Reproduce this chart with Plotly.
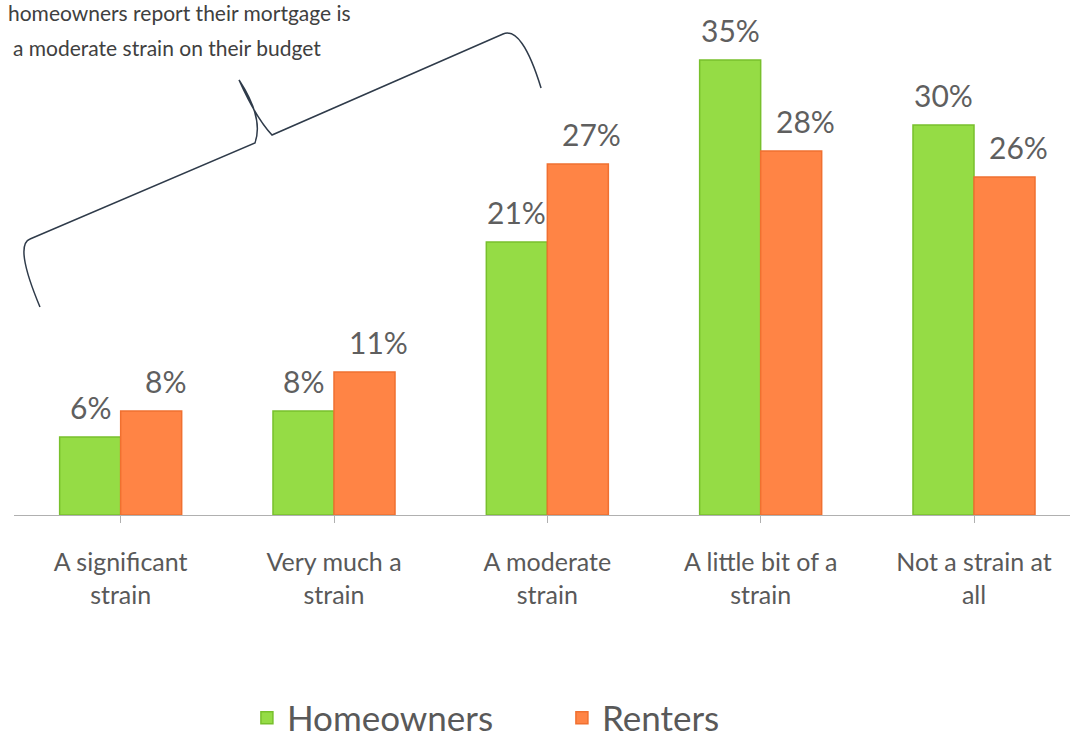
import plotly.graph_objects as go

# --- data ---
categories = ["A significant<br>strain", "Very much a<br>strain", "A moderate<br>strain",
              "A little bit of a<br>strain", "Not a strain at<br>all"]
homeowners = [6, 8, 21, 35, 30]
renters = [8, 11, 27, 28, 26]
note_lines = ["homeowners report their mortgage is", "a moderate strain on their budget"]

W, H = 1070, 740
L, R, T, B = 14, 0, 8, 225
FONT = "Lato, 'Open Sans', sans-serif"
GREY = "#595959"


def px_x(px):
    return (px - L) / (W - L - R)


def px_y(py):
    return (H - B - py) / (H - T - B)


idx = list(range(len(categories)))
bw = 0.286

fig = go.Figure()
fig.add_trace(go.Bar(x=idx, y=homeowners, name="Homeowners", width=bw, offset=-bw,
                     marker=dict(color="#95dc45", line=dict(color="#78c02c", width=1.5))))
fig.add_trace(go.Bar(x=idx, y=renters, name="Renters", width=bw, offset=0,
                     marker=dict(color="#ff8445", line=dict(color="#f07030", width=1.5))))

annotations = []
for i, v in enumerate(homeowners):
    annotations.append(dict(x=i - bw / 2, y=v, text=f"{v}%", showarrow=False, yanchor="middle",
                            yshift=30, font=dict(family=FONT, size=30, color="#5f5f5f")))
for i, v in enumerate(renters):
    annotations.append(dict(x=i + bw / 2, y=v, text=f"{v}%", showarrow=False, yanchor="middle",
                            yshift=30, xshift=14, font=dict(family=FONT, size=30, color="#5f5f5f")))

# note at top-left
for line, (x0, y0) in zip(note_lines, [(6, 12), (11, 48)]):
    annotations.append(dict(xref="paper", yref="paper", x=px_x(x0), y=px_y(y0), xanchor="left",
                            yanchor="middle", text=line, showarrow=False,
                            font=dict(family=FONT, size=21, color="#404040")))

brace_pts = "M {0},{1} Q {2},{3} {4},{5} L {6},{7} Q {8},{9} {10},{11} Q {12},{13} {14},{15} L {16},{17} Q {18},{19} {20},{21}"
pts = [(40, 307), (14, 245), (30, 239), (255, 143), (264, 118), (239, 80),
       (256, 118), (272, 135), (503, 34), (522, 26), (541, 88)]
flat = []
for px, py in pts:
    flat += [round(px_x(px), 4), round(px_y(py), 4)]
brace = brace_pts.format(*flat)

fig.update_layout(
    width=W, height=H,
    margin=dict(l=L, r=R, t=T, b=B, autoexpand=False),
    paper_bgcolor="white", plot_bgcolor="white",
    barmode="group",
    showlegend=True,
    legend=dict(orientation="h", x=236 / W, xanchor="left", yref="container",
                y=1 - 718 / H, yanchor="middle", entrywidth=270, entrywidthmode="pixels",
                font=dict(family=FONT, size=35, color=GREY), itemwidth=30,
                traceorder="normal"),
    xaxis=dict(range=[-0.5, 4.45], tickmode="array", tickvals=idx, ticktext=categories,
               tickson="boundaries", automargin=False,
               showgrid=False, zeroline=False, showline=True, linecolor="#b0b0b0", linewidth=1,
               ticks="outside", ticklen=7, tickcolor="#b0b0b0", ticklabelstandoff=18,
               tickfont=dict(family=FONT, size=25, color=GREY)),
    yaxis=dict(range=[0, 39], visible=False, fixedrange=True, automargin=False),
    annotations=annotations,
    shapes=[dict(type="path", xref="paper", yref="paper", path=brace,
                 line=dict(color="#2f3b4a", width=1.5))],
)

fig.write_html("out.html", config={"displayModeBar": False},
               post_script="document.body.style.margin = '0';")
